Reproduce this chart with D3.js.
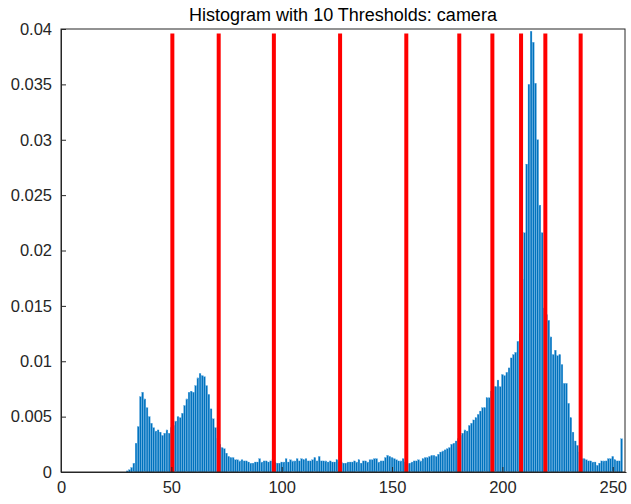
<!DOCTYPE html>
<html><head><meta charset="utf-8">
<script src="https://cdn.jsdelivr.net/npm/d3@7"></script>
<style>body{margin:0;background:#fff}text{font-family:Arial,"Liberation Sans",sans-serif}</style>
</head><body><svg id="c" width="631" height="504"></svg>
<script>
const title = "Histogram with 10 Thresholds: camera";
const xTicks = [0,50,100,150,200,250];
const yTicks = [0,0.005,0.01,0.015,0.02,0.025,0.03,0.035,0.04];
const yTickLabels = ["0","0.005","0.01","0.015","0.02","0.025","0.03","0.035","0.04"];
const thresholds = [50,71,96,126,156,180,195,208,219,235];
// histogram counts (normalized) for gray levels 0..255, split into segments
const dark = new Array(30).fill(0);
const peak1 = [0.0001,0.0002,0.0004,0.0008,0.0026,0.0041,0.0068,0.0072,0.0066,0.0058,0.0050,0.0044,0.0040,0.0037,0.0038,0.0036,0.0033,0.0035,0.0038,0.0035,0.0040,0.0042,0.0046,0.0050,0.0049,0.0053,0.0060,0.0066,0.0072,0.0073,0.0072,0.0078,0.0085,0.0089,0.0087,0.0086,0.0078,0.0070,0.0057,0.0048,0.0040,0.0030,0.0025,0.0022,0.0021,0.0017,0.0014,0.0013,0.0013,0.0011,0.0011,0.0010,0.0011,0.0010,0.0010];
const plateau = [0.0009,0.0008,0.0008,0.0009,0.0009,0.0012,0.0009,0.0010,0.0010,0.0009,0.0010,0.0011,0.0009,0.0008,0.0008,0.0009,0.0009,0.0012,0.0009,0.0011,0.0010,0.0010,0.0012,0.0010,0.0012,0.0011,0.0012,0.0010,0.0010,0.0011,0.0013,0.0010,0.0014,0.0010,0.0010,0.0010,0.0009,0.0010,0.0009,0.0009,0.0011,0.0009,0.0009,0.0008,0.0008,0.0009,0.0009,0.0009,0.0010,0.0009,0.0011,0.0008,0.0010,0.0010,0.0009,0.0011,0.0011,0.0012,0.0012,0.0009,0.0010,0.0010,0.0013,0.0015,0.0014,0.0013,0.0012,0.0011,0.0010,0.0010,0.0012];
const rise = [0.0009,0.0007,0.0008,0.0009,0.0010,0.0010,0.0011,0.0010,0.0012,0.0013,0.0013,0.0014,0.0015,0.0015,0.0014,0.0016,0.0018,0.0019,0.0020,0.0021,0.0022,0.0025,0.0026,0.0028,0.0030,0.0033,0.0035,0.0038,0.0037,0.0042,0.0044,0.0047,0.0049,0.0052,0.0055,0.0058,0.0058,0.0067,0.0067,0.0073,0.0077,0.0077,0.0083,0.0077,0.0088,0.0087,0.0090,0.0094,0.0103,0.0106,0.0108,0.0118,0.0125];
const peak2 = [0.0174,0.0216,0.0278,0.0350,0.0398,0.0388,0.0351,0.0300,0.0241,0.0216,0.0148,0.0142,0.0137,0.0122,0.0106,0.0110,0.0105,0.0106,0.0097,0.0080,0.0080,0.0062,0.0049,0.0036,0.0028,0.0024,0.0018];
const bright = [0.0012,0.0012,0.0011,0.0010,0.0010,0.0009,0.0009,0.0006,0.0008,0.0010,0.0010,0.0010,0.0012,0.0012,0.0014,0.0011,0.0010,0.0010,0.0030];
const values = [].concat(dark,peak1,plateau,rise,peak2,bright).slice(0,256);

const svg = d3.select("#c");
const m = {l:61,r:625,t:29,b:472};
const x = d3.scaleLinear().domain([0,256]).range([m.l,m.r+1]);
const y = d3.scaleLinear().domain([0,0.04]).range([m.b,m.t]);
const bw = (x(1)-x(0))*0.8;

svg.append("g").selectAll("rect").data(values).join("rect")
  .attr("x",(d,i)=>x(i)-bw/2).attr("width",bw)
  .attr("y",d=>y(d)).attr("height",d=>y(0)-y(d))
  .attr("fill","#0072BD").attr("stroke","#4DA3E0").attr("stroke-width",0.3);

svg.append("g").selectAll("line").data(thresholds).join("line")
  .attr("x1",d=>x(d)+1).attr("x2",d=>x(d)+1).attr("y1",y(0)).attr("y2",y(0.0396))
  .attr("stroke","#FF0000").attr("stroke-width",4);

const ax = svg.append("g").attr("transform",`translate(0,${m.b})`)
  .call(d3.axisBottom(x).tickValues(xTicks).tickSizeInner(-5).tickSizeOuter(0).tickPadding(9));
const ay = svg.append("g").attr("transform",`translate(${m.l},0)`)
  .call(d3.axisLeft(y).tickValues(yTicks).tickFormat((d,i)=>yTickLabels[i]).tickSizeInner(-5).tickSizeOuter(0).tickPadding(9));
[ax,ay].forEach(a=>{a.selectAll("text").attr("font-size",16.5).attr("fill","#262626");a.selectAll("line").attr("stroke","#262626");a.select(".domain").attr("stroke","#262626");});
svg.append("rect").attr("x",m.l).attr("y",m.t).attr("width",m.r-m.l).attr("height",m.b-m.t)
  .attr("fill","none").attr("stroke","#262626").attr("stroke-width",1);
svg.append("text").attr("x",(m.l+m.r)/2).attr("y",21).attr("text-anchor","middle")
  .attr("font-size",18).attr("fill","#000").text(title);
</script></body></html>
